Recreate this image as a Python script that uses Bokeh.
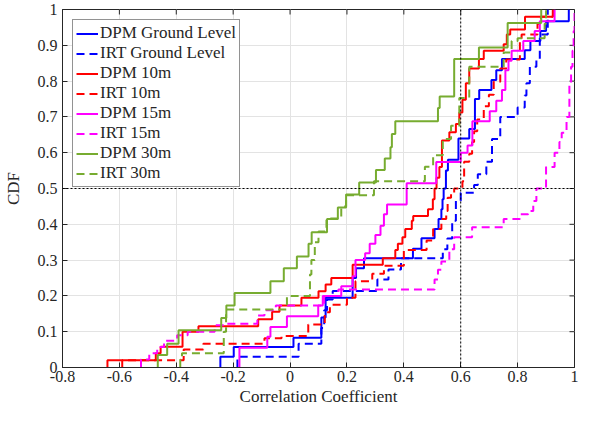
from bokeh.plotting import figure
from bokeh.models import Range1d, FixedTicker, Span, Legend, LegendItem
from bokeh.embed import file_html
from bokeh.resources import INLINE

# ---------------- data (step CDFs: jump positions and CDF value after jump) ----------------
dpm_ground_x = [-0.245, -0.198, 0.012, 0.110, 0.125, 0.22, 0.232, 0.26, 0.432, 0.462, 0.508, 0.522,
                0.532, 0.536, 0.540, 0.548, 0.555, 0.592, 0.63, 0.65, 0.665, 0.708, 0.725, 0.745,
                0.825, 0.845, 0.88, 0.90, 0.98]
dpm_ground_y = [0.03, 0.057, 0.083, 0.14, 0.195, 0.25, 0.277, 0.305, 0.332, 0.361, 0.387, 0.415,
                0.442, 0.47, 0.50, 0.55, 0.58, 0.64, 0.666, 0.75, 0.775, 0.803, 0.83, 0.862,
                0.886, 0.912, 0.94, 0.967, 1.0]

irt_ground_x = [-0.185, 0.03, 0.11, 0.12, 0.13, 0.15, 0.307, 0.346, 0.39, 0.537, 0.553, 0.57,
                0.583, 0.60, 0.647, 0.66, 0.69, 0.71, 0.739, 0.80, 0.825, 0.831, 0.843, 0.866,
                0.878, 0.906]
irt_ground_y = [0.03, 0.066, 0.11, 0.16, 0.19, 0.214, 0.246, 0.274, 0.305, 0.33, 0.36, 0.41,
                0.466, 0.488, 0.51, 0.54, 0.575, 0.638, 0.70, 0.726, 0.76, 0.794, 0.84, 0.862,
                0.93, 1.0]

dpm_10_x = [-0.642, -0.472, -0.455, -0.378, -0.322, -0.112, -0.063, -0.037, 0.04, 0.10, 0.125,
            0.145, 0.22, 0.326, 0.37, 0.379, 0.395, 0.405, 0.428, 0.433, 0.485, 0.502, 0.508,
            0.515, 0.525, 0.534, 0.56, 0.583, 0.595, 0.606, 0.618, 0.63, 0.664, 0.681, 0.751,
            0.762, 0.774, 0.826, 0.924]
dpm_10_y = [0.02, 0.04, 0.058, 0.10, 0.115, 0.135, 0.156, 0.173, 0.195, 0.213, 0.232,
            0.25, 0.287, 0.305, 0.328, 0.346, 0.364, 0.387, 0.41, 0.423, 0.442, 0.47, 0.50,
            0.53, 0.56, 0.634, 0.657, 0.68, 0.712, 0.748, 0.794, 0.835, 0.862, 0.885, 0.903,
            0.93, 0.944, 0.98, 1.0]

irt_10_x = [-0.59, -0.374, -0.305, -0.09, -0.03, 0.064, 0.122, 0.14, 0.20, 0.23, 0.289, 0.33,
            0.40, 0.48, 0.503, 0.532, 0.549, 0.554, 0.566, 0.577, 0.606, 0.612, 0.63, 0.64,
            0.647, 0.658, 0.681, 0.699, 0.716, 0.739, 0.76, 0.808, 0.814, 0.87, 0.882, 0.924]
irt_10_y = [0.02, 0.05, 0.066, 0.082, 0.088, 0.12, 0.154, 0.175, 0.195, 0.241, 0.262, 0.284,
            0.328, 0.355, 0.387, 0.415, 0.437, 0.474, 0.488, 0.50, 0.52, 0.575, 0.597, 0.63,
            0.66, 0.693, 0.73, 0.762, 0.798, 0.835, 0.86, 0.912, 0.93, 0.96, 0.98, 1.0]

dpm_15_x = [-0.178, -0.08, -0.069, -0.011, 0.099, 0.115, 0.18, 0.22, 0.23, 0.264, 0.28, 0.30,
            0.318, 0.33, 0.341, 0.41, 0.514, 0.60, 0.624, 0.641, 0.702, 0.725, 0.745, 0.757,
            0.768, 0.779, 0.82, 0.86, 0.878, 0.93]
dpm_15_y = [0.055, 0.086, 0.113, 0.143, 0.173, 0.2, 0.227, 0.255, 0.30, 0.319, 0.346, 0.37,
            0.396, 0.428, 0.455, 0.515, 0.574, 0.60, 0.62, 0.688, 0.716, 0.745, 0.775, 0.83,
            0.857, 0.885, 0.912, 0.94, 0.967, 1.0]

irt_15_x = [-0.524, -0.495, -0.467, -0.443, -0.397, -0.36, -0.265, -0.226, -0.115, -0.09, -0.05,
            0.12, 0.17, 0.508, 0.52, 0.532, 0.56, 0.577, 0.64, 0.751, 0.808, 0.837, 0.855,
            0.866, 0.90, 0.93, 0.947, 0.955, 0.972, 0.982, 0.988, 0.993, 0.997, 1.0]
irt_15_y = [0.022, 0.04, 0.057, 0.075, 0.09, 0.10, 0.118, 0.122, 0.145, 0.16, 0.173,
            0.2, 0.218, 0.246, 0.273, 0.296, 0.33, 0.364, 0.392, 0.415, 0.428, 0.437, 0.465,
            0.50, 0.56, 0.60, 0.63, 0.656, 0.70, 0.79, 0.84, 0.885, 0.94, 1.0]

dpm_30_x = [-0.465, -0.432, -0.392, -0.242, -0.224, -0.195, -0.069, -0.022, 0.024, 0.065,
            0.076, 0.13, 0.168, 0.197, 0.243, 0.302, 0.333, 0.353, 0.358, 0.37, 0.52, 0.526,
            0.577, 0.664, 0.765, 0.883]
dpm_30_y = [0.035, 0.066, 0.104, 0.138, 0.173, 0.208, 0.241, 0.277, 0.31, 0.346,
            0.378, 0.415, 0.447, 0.483, 0.517, 0.552, 0.584, 0.615, 0.652, 0.688, 0.725, 0.757,
            0.862, 0.894, 0.962, 1.0]

irt_30_x = [-0.386, -0.38, -0.233, -0.225, -0.011, 0.07, 0.075, 0.087, 0.10, 0.128, 0.18,
            0.197, 0.295, 0.474, 0.503, 0.537, 0.566, 0.595, 0.63, 0.751, 0.779, 0.80, 0.895, 0.90]
irt_30_y = [0.022, 0.04, 0.10, 0.162, 0.2, 0.26, 0.30, 0.35, 0.38, 0.416, 0.45,
            0.481, 0.52, 0.561, 0.593, 0.638, 0.675, 0.753, 0.84, 0.88, 0.912, 0.92, 0.96, 1.0]

series_names = ["DPM Ground Level", "IRT Ground Level", "DPM 10m", "IRT 10m",
                "DPM 15m", "IRT 15m", "DPM 30m", "IRT 30m"]

x_ticks = [-0.8, -0.6, -0.4, -0.2, 0, 0.2, 0.4, 0.6, 0.8, 1]
x_tick_labels = ["-0.8", "-0.6", "-0.4", "-0.2", "0", "0.2", "0.4", "0.6", "0.8", "1"]
y_ticks = [0, 0.1, 0.2, 0.3, 0.4, 0.5, 0.6, 0.7, 0.8, 0.9, 1]
y_tick_labels = ["0", "0.1", "0.2", "0.3", "0.4", "0.5", "0.6", "0.7", "0.8", "0.9", "1"]

threshold_x = 0.6
threshold_y = 0.5

# ---------------- styling ----------------
FONT = "Liberation Serif"
BLUE, RED, MAG, GREEN = "#0000FF", "#FF0000", "#FF00FF", "#77AC30"
DASH = "8 5"
AX = "#262626"
X0, X1, Y0, Y1 = -0.8, 1.0, 0.0, 1.0

p = figure(width=579, height=408, x_range=Range1d(X0, X1), y_range=Range1d(Y0, Y1),
           output_backend="svg", toolbar_location=None,
           min_border_left=62, min_border_right=5, min_border_top=9, min_border_bottom=0)

p.outline_line_color = AX
p.outline_line_width = 1
p.xgrid.grid_line_color = "#e3e3e3"
p.ygrid.grid_line_color = "#e3e3e3"
p.xgrid.ticker = FixedTicker(ticks=x_ticks)
p.ygrid.ticker = FixedTicker(ticks=y_ticks)

for ax, ticks, labels in ((p.xaxis[0], x_ticks, x_tick_labels), (p.yaxis[0], y_ticks, y_tick_labels)):
    ax.ticker = FixedTicker(ticks=ticks)
    ax.major_label_overrides = {t: l for t, l in zip(ticks, labels)}
    ax.minor_tick_line_color = None
    ax.major_tick_in = 5
    ax.major_tick_out = 0
    ax.axis_line_color = AX
    ax.major_tick_line_color = AX
    ax.major_label_text_font = FONT
    ax.major_label_text_color = AX
    ax.major_label_text_font_size = "16px"
    ax.major_label_standoff = 5
    ax.axis_label_text_font = FONT
    ax.axis_label_text_font_style = "normal"
    ax.axis_label_text_font_size = "17px"
    ax.axis_label_text_color = AX

p.xaxis[0].axis_label = "Correlation Coefficient"
p.yaxis[0].axis_label = "CDF"
p.xaxis[0].major_label_standoff = 3
p.xaxis[0].axis_label_standoff = 2
p.yaxis[0].axis_label_standoff = 12

# inward ticks on the top and right edges of the box (5 px long)
tick_dx = 5 * (X1 - X0) / 512.0
tick_dy = 5 * (Y1 - Y0) / 357.0
p.segment(x0=x_ticks, y0=[Y1] * len(x_ticks), x1=x_ticks, y1=[Y1 - tick_dy] * len(x_ticks),
          line_color=AX, line_width=1)
p.segment(x0=[X1] * len(y_ticks), y0=y_ticks, x1=[X1 - tick_dx] * len(y_ticks), y1=y_ticks,
          line_color=AX, line_width=1)

data = [
    (dpm_ground_x, dpm_ground_y, BLUE, "solid"),
    (irt_ground_x, irt_ground_y, BLUE, DASH),
    (dpm_10_x, dpm_10_y, RED, "solid"),
    (irt_10_x, irt_10_y, RED, DASH),
    (dpm_15_x, dpm_15_y, MAG, "solid"),
    (irt_15_x, irt_15_y, MAG, DASH),
    (dpm_30_x, dpm_30_y, GREEN, "solid"),
    (irt_30_x, irt_30_y, GREEN, DASH),
]

items = []
for name, (xs, ys, col, dash) in zip(series_names, data):
    r = p.step(x=[xs[0]] + list(xs), y=[0] + list(ys), mode="after",
               line_color=col, line_width=2, line_dash=dash)
    items.append(LegendItem(label=name, renderers=[r]))

p.add_layout(Span(location=threshold_y, dimension="width", line_color="black",
                  line_dash="2 2", line_width=1))
p.add_layout(Span(location=threshold_x, dimension="height", line_color="black",
                  line_dash="2 2", line_width=1))

legend = Legend(items=items, location="top_left")
legend.margin = 10
legend.padding = 3
legend.spacing = 0
legend.glyph_width = 22
legend.glyph_height = 19
legend.label_height = 19
legend.label_standoff = 2
legend.label_text_font = FONT
legend.label_text_font_size = "17px"
legend.label_text_color = AX
legend.border_line_color = AX
legend.border_line_width = 1
legend.background_fill_alpha = 1
p.add_layout(legend, "center")

open("out.html", "w").write(file_html(p, INLINE))
